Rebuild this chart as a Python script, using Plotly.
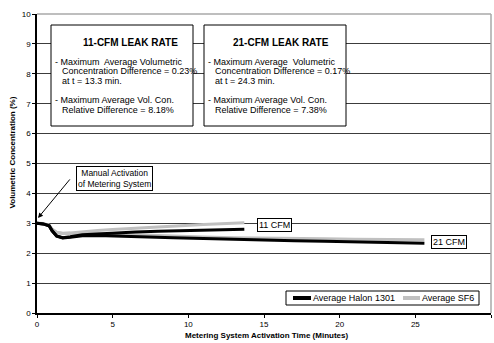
import plotly.graph_objects as go

# ---- data: average volumetric concentration (%) vs. activation time (min) ----
t_11 = [0, 0.4, 0.8, 1.0, 1.3, 1.7, 2.2, 3, 4, 5, 6.5, 8, 9.5, 11, 12.5, 13.7]
halon_11 = [3.00, 2.98, 2.92, 2.75, 2.58, 2.52, 2.55, 2.62, 2.64, 2.67, 2.71, 2.73, 2.75, 2.77, 2.79, 2.80]
sf6_11 = [3.00, 2.99, 2.93, 2.80, 2.70, 2.67, 2.68, 2.72, 2.76, 2.79, 2.84, 2.88, 2.92, 2.96, 2.99, 3.02]

t_21 = [0, 0.4, 0.8, 1.0, 1.3, 1.7, 2.2, 3, 4, 5, 7, 9, 11, 13, 15, 17, 19, 21, 23, 25.6]
halon_21 = [3.00, 2.98, 2.92, 2.75, 2.57, 2.51, 2.53, 2.58, 2.59, 2.58, 2.55, 2.52, 2.49, 2.46,
            2.44, 2.42, 2.40, 2.38, 2.36, 2.33]
sf6_21 = [3.00, 2.99, 2.93, 2.80, 2.69, 2.66, 2.66, 2.67, 2.66, 2.64, 2.60, 2.57, 2.54, 2.52,
          2.50, 2.49, 2.48, 2.47, 2.46, 2.45]

x_ticks = [0, 5, 10, 15, 20, 25, 30]
y_ticks = [0, 1, 2, 3, 4, 5, 6, 7, 8, 9, 10]

series_names = ["Average Halon 1301", "Average SF6"]

box_11 = ["11-CFM LEAK RATE",
          "- Maximum\u00a0 Average Volumetric",
          "Concentration Difference = 0.23%",
          "at t = 13.3 min.",
          "- Maximum Average Vol. Con.",
          "Relative Difference = 8.18%"]
box_21 = ["21-CFM LEAK RATE",
          "- Maximum Average\u00a0 Volumetric",
          "Concentration Difference = 0.17%",
          "at t = 24.3 min.",
          "- Maximum Average Vol. Con.",
          "Relative Difference = 7.38%"]

# ---- layout geometry (pixels) ----
W, H = 494, 343
L, R, T, B = 37, 3, 14, 30
PW, PH = W - L - R, H - T - B
FONT = "Arial, 'Liberation Sans', sans-serif"
BLACK, GRAY = "#000000", "#c0c0c0"


def px(x):
    return (x - L) / PW


def py(y):
    return (H - B - y) / PH


fig = go.Figure()
for t, v, c, name in [
    (t_11, sf6_11, GRAY, series_names[1]),
    (t_21, sf6_21, GRAY, series_names[1]),
    (t_11, halon_11, BLACK, series_names[0]),
    (t_21, halon_21, BLACK, series_names[0]),
]:
    fig.add_trace(go.Scatter(x=t, y=v, mode="lines", name=name, showlegend=False,
                             line=dict(color=c, width=3)))

shapes = [
    # light top and right frame
    dict(type="line", xref="paper", yref="paper", x0=0, x1=1, y0=1, y1=1,
         line=dict(color="#a8a8a8", width=1.5), layer="above"),
    dict(type="line", xref="paper", yref="paper", x0=1, x1=1, y0=0, y1=1,
         line=dict(color="#a8a8a8", width=1.5), layer="above"),
]
annotations = []


def text_box(x0, x1, y0, y1, lines, dash_x, indent_x, title_cx):
    shapes.append(dict(type="rect", xref="paper", yref="paper",
                       x0=px(x0), x1=px(x1), y0=py(y1), y1=py(y0),
                       fillcolor="white", line=dict(color="black", width=1), layer="above"))
    annotations.append(dict(xref="paper", yref="paper", x=px(title_cx), y=py(42),
                            text="<b>" + lines[0] + "</b>", showarrow=False,
                            xanchor="center", yanchor="middle",
                            font=dict(family=FONT, size=10, color="black")))
    ys = [62.3, 71.3, 81, 100, 109.5]
    xs = [dash_x, indent_x, indent_x, dash_x, indent_x]
    for line, yy, xx in zip(lines[1:], ys, xs):
        annotations.append(dict(xref="paper", yref="paper", x=px(xx), y=py(yy), text=line,
                                showarrow=False, xanchor="left", yanchor="middle",
                                font=dict(family=FONT, size=9, color="black")))


text_box(51, 193, 25, 126, box_11, 52.5, 60, 130.5)
text_box(204, 346, 25, 126, box_21, 205.5, 212.5, 280.5)

# callouts
annotations.append(dict(xref="paper", yref="paper", x=px(114), y=py(178),
                        text="Manual Activation<br>of Metering System", showarrow=False,
                        xanchor="center", yanchor="middle", align="center",
                        bordercolor="black", borderwidth=1, borderpad=1, bgcolor="white",
                        font=dict(family=FONT, size=8.5, color="black")))
annotations.append(dict(x=0.07, y=3.18, xref="x", yref="y", text="", showarrow=True,
                        ax=33, ay=-40, arrowhead=2, arrowsize=1, arrowwidth=1,
                        arrowcolor="black"))
annotations.append(dict(xref="paper", yref="paper", x=px(274.5), y=py(224.5), text="11 CFM",
                        showarrow=False, xanchor="center", yanchor="middle",
                        bordercolor="black", borderwidth=1, borderpad=1, bgcolor="white",
                        font=dict(family=FONT, size=9, color="black")))
annotations.append(dict(xref="paper", yref="paper", x=px(449), y=py(241.5), text="21 CFM",
                        showarrow=False, xanchor="center", yanchor="middle",
                        bordercolor="black", borderwidth=1, borderpad=1, bgcolor="white",
                        font=dict(family=FONT, size=9, color="black")))

# legend box drawn in the lower right corner of the plot
shapes.append(dict(type="rect", xref="paper", yref="paper", x0=px(286), x1=px(479),
                   y0=py(305), y1=py(291), fillcolor="white",
                   line=dict(color="black", width=1), layer="above"))
for (s0, s1, tx), name, col in zip([(293, 311, 311), (403, 420, 420)], series_names,
                                   [BLACK, GRAY]):
    shapes.append(dict(type="line", xref="paper", yref="paper", x0=px(s0), x1=px(s1),
                       y0=py(298), y1=py(298), line=dict(color=col, width=4), layer="above"))
    annotations.append(dict(xref="paper", yref="paper", x=px(tx), y=py(298), text=name,
                            showarrow=False, xanchor="left", yanchor="middle",
                            font=dict(family=FONT, size=9, color="black")))

# axis titles
annotations.append(dict(xref="paper", yref="paper", x=px(12), y=py(152.5),
                        text="<b>Volumetric Concentration (%)</b>", textangle=-90,
                        showarrow=False, xanchor="center", yanchor="middle",
                        font=dict(family=FONT, size=8, color="black")))
annotations.append(dict(xref="paper", yref="paper", x=px(266), y=py(335),
                        text="<b>Metering System Activation Time (Minutes)</b>",
                        showarrow=False, xanchor="center", yanchor="middle",
                        font=dict(family=FONT, size=8, color="black")))

fig.update_layout(
    width=W, height=H,
    margin=dict(l=L, r=R, t=T, b=B, pad=0, autoexpand=False),
    paper_bgcolor="white", plot_bgcolor="white",
    font=dict(family=FONT, size=8, color="black"),
    shapes=shapes, annotations=annotations,
    showlegend=False,
    xaxis=dict(range=[0, 30], tickvals=x_ticks, showgrid=False, zeroline=False,
               showline=True, linecolor="black", linewidth=1.5, automargin=False,
               ticks="outside", ticklen=3, tickcolor="black",
               tickfont=dict(family=FONT, size=8)),
    yaxis=dict(range=[0, 10], tickvals=y_ticks, showgrid=True, gridcolor="#3c3c3c",
               gridwidth=1, zeroline=False, showline=True, linecolor="black", linewidth=1.5,
               automargin=False, ticks="outside", ticklen=3, tickcolor="black",
               tickfont=dict(family=FONT, size=8)),
)

fig.write_html("out.html")
